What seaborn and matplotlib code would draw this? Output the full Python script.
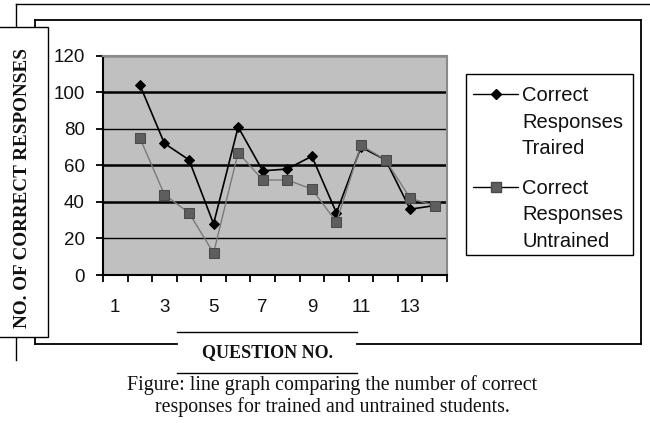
import matplotlib
matplotlib.use('Agg')
import matplotlib.pyplot as plt
import seaborn as sns
import numpy as np
from matplotlib.lines import Line2D
from matplotlib.patches import Rectangle

# ---- data ----
questions = [2, 3, 4, 5, 6, 7, 8, 9, 10, 11, 12, 13, 14]
trained = [104, 72, 63, 28, 81, 57, 58, 65, 34, 70, 63, 36, 38]
untrained = [75, 44, 34, 12, 67, 52, 52, 47, 29, 71, 63, 42, 38]
x_tick_positions = [1, 3, 5, 7, 9, 11, 13]
x_tick_labels = ['1', '3', '5', '7', '9', '11', '13']
y_ticks = [0, 20, 40, 60, 80, 100, 120]
series_labels = ['Correct\nResponses\nTraired', 'Correct\nResponses\nUntrained']
y_title = 'NO. OF CORRECT RESPONSES'
x_title = 'QUESTION NO.'
caption = ('Figure: line graph comparing the number of correct\n'
           'responses for trained and untrained students.')

sns.set_theme(style='white')
plt.rcParams['font.family'] = ['Liberation Sans', 'DejaVu Sans']

W, H = 650, 423
fig = plt.figure(figsize=(6.5, 4.23), dpi=100)
fig.patch.set_facecolor('white')


def fx(x):
    return x / W


def fy(y):
    return 1 - y / H


ax = fig.add_axes([fx(103), fy(275), fx(447) - fx(103), fy(55.7) - fy(275)])
ax.set_facecolor('#c0c0c0')

trained_color = 'black'
untrained_color = '#7a7a7a'

sns.lineplot(x=questions, y=trained, color=trained_color, marker='D',
             markersize=5.5, markeredgecolor='black', lw=1.2, ax=ax, zorder=3)
sns.lineplot(x=questions, y=untrained, color=untrained_color, marker='s',
             markersize=7.5, markerfacecolor='#5e5e5e', markeredgecolor='#4a4a4a',
             lw=1.0, ax=ax, zorder=4)

ax.set_xlim(0.5, 14.5)
ax.set_ylim(0, 120)
ax.set_xticks(x_tick_positions, x_tick_labels)
ax.set_xticks(np.arange(0.5, 15, 1), minor=True)
ax.set_yticks(y_ticks)
ax.tick_params(axis='x', which='major', bottom=True, length=0, pad=17,
               labelsize=13.5, labelcolor='#111111')
ax.tick_params(axis='x', which='minor', bottom=True, length=5, width=1.3,
               direction='out', color='black')
ax.tick_params(axis='y', which='major', left=True, length=5, width=1.3,
               direction='out', color='black', pad=8, labelsize=13.5,
               labelcolor='#111111')
ax.set_xlabel('')
ax.set_ylabel('')

ax.grid(axis='y', color='black', linewidth=1.0)
ax.grid(axis='x', visible=False)
for gl, v in zip(ax.get_ygridlines(), y_ticks):
    if v in (40, 60, 100):
        gl.set_linewidth(1.8)
ax.set_axisbelow(True)

for side in ('left', 'bottom'):
    ax.spines[side].set_color('black')
    ax.spines[side].set_linewidth(1.5)
for side in ('top', 'right'):
    ax.spines[side].set_color('#8a8a8a')
    ax.spines[side].set_linewidth(1.5)


def fline(xs, ys, lw=1.3, color='black', z=2):
    fig.add_artist(Line2D([fx(v) for v in xs], [fy(v) for v in ys],
                          transform=fig.transFigure, color=color, lw=lw,
                          zorder=z, solid_capstyle='projecting'))


# outer frame
fline([16, 652], [4, 4], lw=1.0, z=1)
fline([16, 16], [4, 360], lw=1.0, z=1)

# inner frame with gap for the x title
fline([35, 641], [20, 20])
fline([641, 641], [20, 344])
fline([357, 641], [344, 344])
fline([35, 177], [344, 344])
fline([35, 35], [20, 344])

# y-title box
fig.add_artist(Rectangle((fx(-3), fy(337)), fx(51), (337 - 27) / H,
                         transform=fig.transFigure, facecolor='white',
                         edgecolor='black', lw=1.0, zorder=3))
fig.text(fx(23), fy(187.5), y_title, rotation=90, ha='center', va='center',
         family=['Liberation Serif', 'DejaVu Serif'], weight='bold',
         size=13.8, color='#111111', zorder=4)

# x-title
fline([177, 357], [332, 332], lw=1.0)
fline([177, 357], [373, 373], lw=1.0)
fig.text(fx(267), fy(353), x_title, ha='center', va='center',
         family=['Liberation Serif', 'DejaVu Serif'], weight='bold',
         size=13, color='#111111')

# caption
fig.text(fx(332), fy(396), caption, ha='center', va='center',
         family=['Liberation Serif', 'DejaVu Serif'], size=14.3,
         linespacing=1.15, color='#111111')

# legend
fig.add_artist(Rectangle((fx(466), fy(255)), fx(633) - fx(466), (255 - 74) / H,
                         transform=fig.transFigure, facecolor='white',
                         edgecolor='black', lw=1.0, zorder=3))
legend_specs = [
    (94, trained_color, 'D', 5.5, 'black', 'black'),
    (187, untrained_color, 's', 7, '#5e5e5e', '#4a4a4a'),
]
for (yy, col, mk, ms, mfc, mec), lab in zip(legend_specs, series_labels):
    fig.add_artist(Line2D([fx(473), fx(518)], [fy(yy), fy(yy)],
                          transform=fig.transFigure, color='black', lw=1.0,
                          zorder=4))
    fig.add_artist(Line2D([fx(495.5)], [fy(yy)], transform=fig.transFigure,
                          marker=mk, markersize=ms, markerfacecolor=mfc,
                          markeredgecolor=mec, lw=0, zorder=5))
    fig.text(fx(522), fy(yy + 28), lab, ha='left', va='center', size=14.5,
             linespacing=1.52, color='#111111', zorder=5)

fig.savefig('out.png', dpi=100)
